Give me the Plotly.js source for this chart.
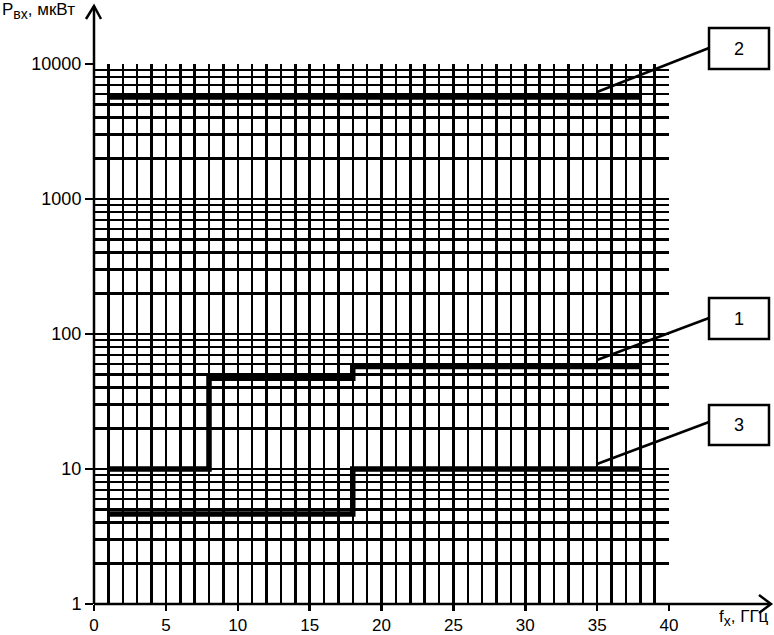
<!DOCTYPE html>
<html>
<head>
<meta charset="utf-8">
<script src="https://cdn.plot.ly/plotly-3.0.1.min.js"></script>
<style>html,body{margin:0;padding:0;background:#fff;}#chart{width:774px;height:635px;}</style>
</head>
<body>
<div id="chart"></div>
<script>
// Data (fх in ГГц, Pвх in мкВт)
const seriesNames = ['1', '2', '3'];
const freq1 = [1, 8, 18, 38];
const power1 = [10, 47, 57.5, 57.5];
const freq2 = [1, 38];
const power2 = [5700, 5700];
const freq3 = [1, 18, 38];
const power3 = [4.65, 10, 10];
const xTickVals = [0, 5, 10, 15, 20, 25, 30, 35, 40];
const yTickVals = [1, 10, 100, 1000, 10000];
const yTickText = ['1', '10', '100', '1000', '10000'];

const FONT = '"Liberation Sans", Arial, sans-serif';
const lineStyle = {color: 'black', width: 5.5, shape: 'hv'};

const traces = [
  {x: freq1, y: power1, name: seriesNames[0], mode: 'lines', line: lineStyle},
  {x: freq2, y: power2, name: seriesNames[1], mode: 'lines', line: lineStyle},
  {x: freq3, y: power3, name: seriesNames[2], mode: 'lines', line: lineStyle}
];

// label boxes (paper coords): box bottom/top, leader start/end y
const boxes = [
  {name: seriesNames[1], y0: 0.9907, y1: 1.0667, ly0: 0.9481, ly1: 1.0296},
  {name: seriesNames[0], y0: 0.4907, y1: 0.5667, ly0: 0.4519, ly1: 0.5296},
  {name: seriesNames[2], y0: 0.2944, y1: 0.3685, ly0: 0.2593, ly1: 0.3370}
];

const shapes = [
  {type: 'line', xref: 'paper', yref: 'paper', x0: 0, x1: 0, y0: 0, y1: 1.1074, line: {color: 'black', width: 2.5}},
  {type: 'path', xref: 'paper', yref: 'paper', path: 'M -0.0139,1.0833 L 0,1.1074 L 0.0122,1.0833', line: {color: 'black', width: 2.5}},
  {type: 'line', xref: 'paper', yref: 'paper', x0: 0, x1: 1.1774, y0: 0, y1: 0, line: {color: 'black', width: 2.5}},
  {type: 'path', xref: 'paper', yref: 'paper', path: 'M 1.1565,0.0167 L 1.1774,0 L 1.1565,-0.0167', line: {color: 'black', width: 2.5}}
];
const annotations = [
  {xref: 'paper', yref: 'paper', x: -0.1635, y: 1.098, xanchor: 'left', yanchor: 'middle', showarrow: false,
   text: 'P<sub><span style="font-size:14px">вх</span></sub>, мкВт', font: {family: FONT, size: 17, color: 'black'}},
  {xref: 'paper', yref: 'paper', x: 1.083, y: -0.026, xanchor: 'left', yanchor: 'middle', showarrow: false,
   text: 'f<sub><span style="font-size:14px">х</span></sub>, ГГц', font: {family: FONT, size: 17, color: 'black'}}
];
boxes.forEach(b => {
  shapes.push({type: 'rect', xref: 'paper', yref: 'paper', x0: 1.0696, x1: 1.1739, y0: b.y0, y1: b.y1,
    line: {color: 'black', width: 2.5}, fillcolor: 'white'});
  shapes.push({type: 'line', xref: 'paper', yref: 'paper', x0: 0.8748, x1: 1.0696, y0: b.ly0, y1: b.ly1,
    line: {color: 'black', width: 2.5}});
  annotations.push({xref: 'paper', yref: 'paper', x: 1.1217, y: (b.y0 + b.y1) / 2, xanchor: 'center', yanchor: 'middle',
    showarrow: false, text: b.name, font: {family: FONT, size: 18, color: 'black'}});
});

const layout = {
  width: 774, height: 635,
  margin: {l: 94, r: 105, t: 64, b: 31},
  paper_bgcolor: 'white', plot_bgcolor: 'white',
  showlegend: false,
  font: {family: FONT, size: 17, color: 'black'},
  xaxis: {
    range: [0, 40], tickmode: 'array', tickvals: xTickVals, ticktext: xTickVals.map(String),
    ticks: 'outside', ticklen: 6, tickwidth: 2.5, tickcolor: 'black',
    showgrid: true, gridcolor: 'black', gridwidth: 2.5, zeroline: false, showline: false,
    minor: {dtick: 1, tick0: 0, showgrid: true, gridcolor: 'black', gridwidth: 2.5, ticks: ''},
    tickfont: {family: FONT, size: 17, color: 'black'}
  },
  yaxis: {
    type: 'log', range: [0, 4], tickmode: 'array', tickvals: yTickVals, ticktext: yTickText,
    ticks: 'outside', ticklen: 8, tickwidth: 2.5, tickcolor: 'black',
    showgrid: true, gridcolor: 'black', gridwidth: 2.5, zeroline: false, showline: false,
    minor: {dtick: 'D1', showgrid: true, gridcolor: 'black', gridwidth: 2.5, ticks: ''},
    tickfont: {family: FONT, size: 18, color: 'black'}
  },
  shapes: shapes,
  annotations: annotations
};

Plotly.newPlot('chart', traces, layout, {staticPlot: true, displayModeBar: false});
</script>
</body>
</html>
